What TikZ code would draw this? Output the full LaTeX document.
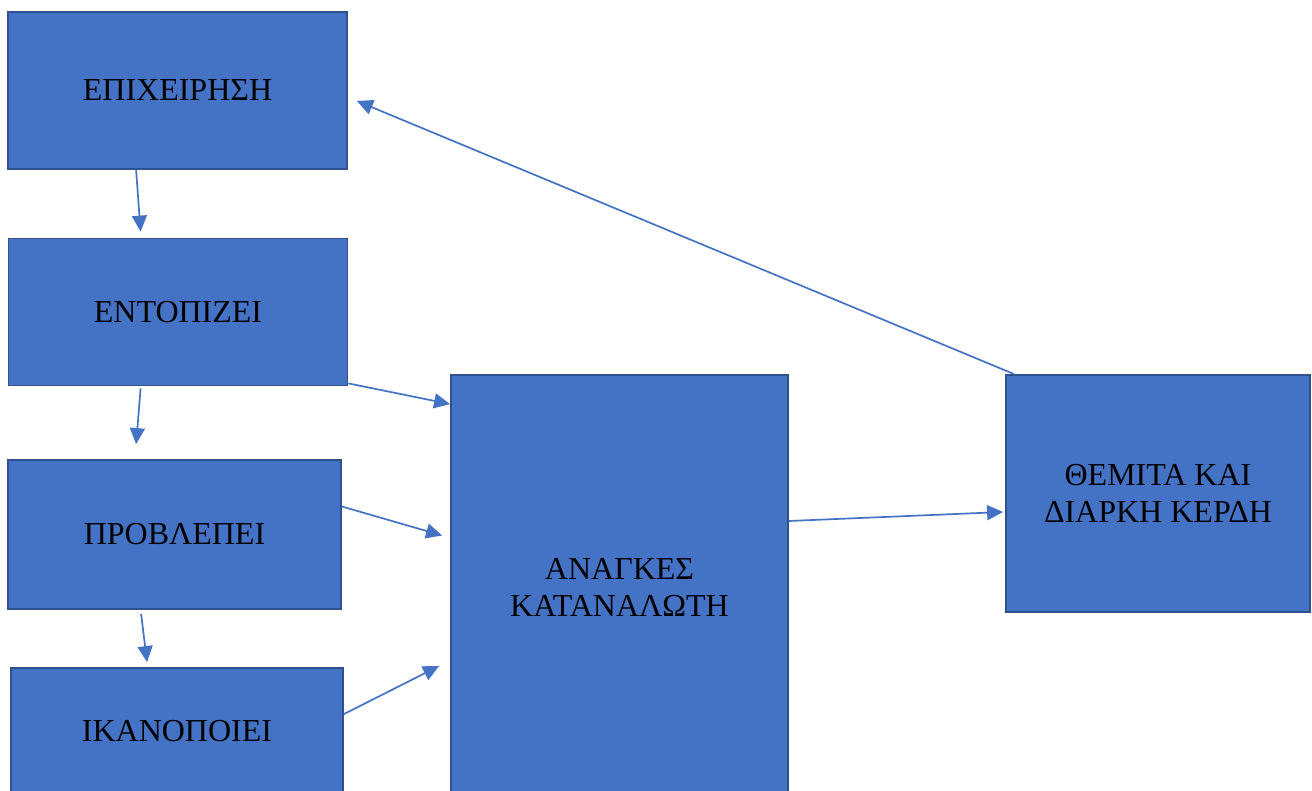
\documentclass[tikz,border=0pt]{standalone}
\usepackage{fontspec}
\setmainfont{Liberation Serif}
\usetikzlibrary{calc,arrows.meta}
\definecolor{boxfill}{HTML}{4472C4}
\definecolor{boxline}{HTML}{2F528F}
\definecolor{arrowcol}{HTML}{4472C4}
\begin{document}
\begin{tikzpicture}[x=1pt,y=-1pt,
  blk/.style={draw=boxline,fill=boxfill,line width=1.8pt,inner sep=0pt,
    align=center,font=\fontsize{32}{37}\selectfont,text=black},
  conn/.style={draw=arrowcol,line width=1.7pt,-{Triangle[length=16pt,width=15pt]}}]
\path[use as bounding box] (0,0) rectangle (1312,791);
\clip (0,0) rectangle (1312,791);
\node[blk,minimum width=339pt,minimum height=157pt] (e) at (177.5,90.5) {ΕΠΙΧΕΙΡΗΣΗ};
\node[blk,minimum width=339pt,minimum height=147pt] (n) at (178,312) {ΕΝΤΟΠΙΖΕΙ};
\node[blk,minimum width=333pt,minimum height=149pt] (p) at (174.5,534.5) {ΠΡΟΒΛΕΠΕΙ};
\node[blk,minimum width=332pt,minimum height=126pt] (k) at (177,731) {ΙΚΑΝΟΠΟΙΕΙ};
\node[blk,minimum width=337pt,minimum height=425pt] (a) at (619.5,587.5) {ΑΝΑΓΚΕΣ\\ΚΑΤΑΝΑΛΩΤΗ};
\node[blk,minimum width=304pt,minimum height=237pt] (t) at (1158,493.5) {ΘΕΜΙΤΑ ΚΑΙ\\ΔΙΑΡΚΗ ΚΕΡΔΗ};
\draw[conn] ($(e.south west)+(129,0)$) -- ($(n.north west)+(133,-6)$);
\draw[conn] ($(n.south west)+(133,2)$) -- ($(p.north west)+(129,-15)$);
\draw[conn] ($(p.south west)+(134,4)$) -- ($(k.north west)+(137,-5)$);
\draw[conn] ($(n.south east)+(0,-3)$) -- ($(a.north west)+(0,30)$);
\draw[conn] ($(p.east)+(0,-28)$) -- ($(a.west)+(-8,-52)$);
\draw[conn] ($(k.north east)+(0,47)$) -- ($(a.west)+(-11,78.5)$);
\draw[conn] ($(a.east)+(0,-66.5)$) -- ($(t.west)+(-2,18.5)$);
\draw[conn] ($(t.north west)+(9,0)$) -- ($(e.east)+(9,10.5)$);
\end{tikzpicture}
\end{document}
